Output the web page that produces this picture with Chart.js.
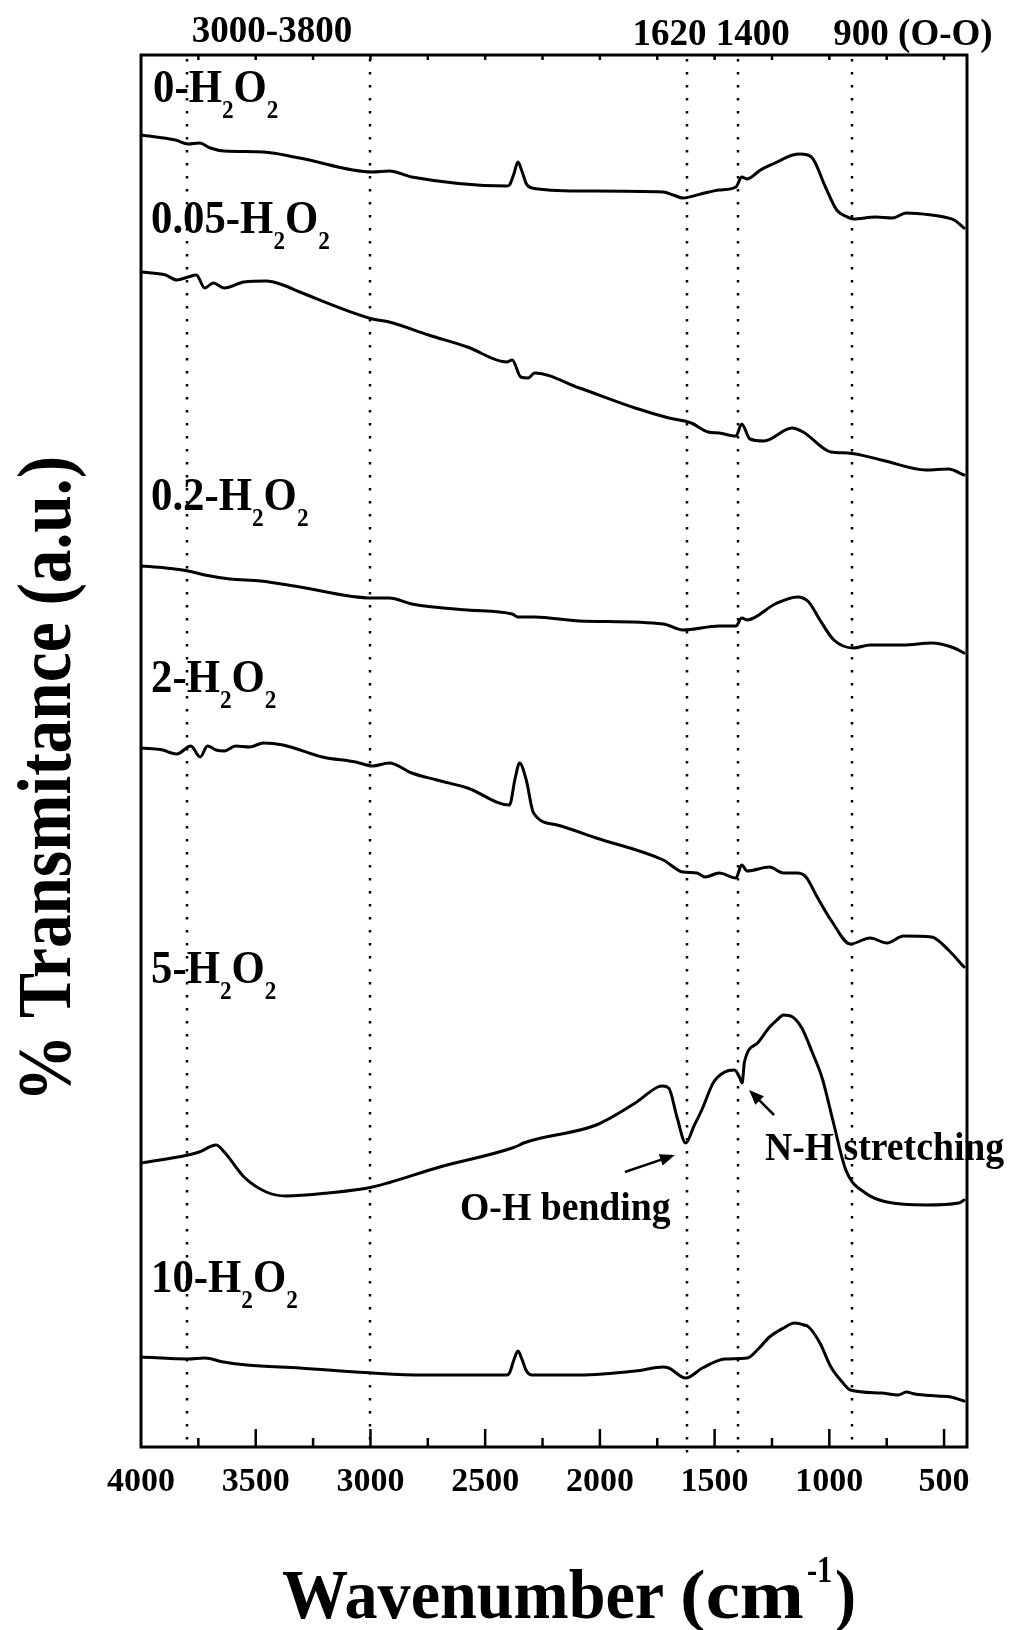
<!DOCTYPE html>
<html><head><meta charset="utf-8">
<script src="https://cdn.jsdelivr.net/npm/chart.js@4.4.0/dist/chart.umd.min.js"></script>
<style>html,body{margin:0;padding:0;background:#fff;}#wrap{width:1011px;height:1630px;}</style>
</head><body><div id="wrap"><canvas id="c" width="1011" height="1630"></canvas></div>
<script>
// ---- data (wavenumber cm-1 / transmittance a.u.) ----
const xTickLabels = [4000, 3500, 3000, 2500, 2000, 1500, 1000, 500];
const markerLines = [3800, 3000, 1620, 1400, 900];
const topLabels = ['3000-3800', '1620 1400', '900 (O-O)'];
const seriesPrefixes = ['0', '0.05', '0.2', '2', '5', '10'];

const wn0 = [4000,3850,3795,3745,3698,3637,3466,3308,2991,2918,2820,2406,2394,2375,2357,2340,2320,2296,2089,1724,1680,1638,1560,1480,1407,1382,1358,1300,1236,1160,1127,1078,1017,968,930,895,798,725,664,554,500,456,413];
const t0  = [130.9,130.4,130.0,130.1,129.6,129.3,129.2,128.6,127.2,127.3,126.7,125.8,125.9,127.0,128.2,127.3,126.0,125.6,125.3,125.2,124.9,124.6,125.0,125.4,125.7,126.7,126.5,127.4,128.1,128.9,129.0,128.7,125.7,123.4,122.8,122.5,122.7,122.6,123.1,122.9,122.7,122.4,121.6];

const wn1 = [4000,3893,3844,3795,3759,3722,3685,3637,3551,3454,3381,3308,2991,2918,2747,2577,2406,2382,2345,2313,2284,2089,1846,1699,1602,1529,1480,1407,1382,1346,1285,1163,1114,993,920,773,578,481,413];
const t1  = [117.2,116.9,116.4,116.7,116.9,115.6,116.1,115.6,116.2,116.3,115.9,115.2,112.5,112.2,110.9,109.7,108.2,108.4,106.7,106.6,107.1,105.6,103.6,102.6,102.1,101.2,101.1,100.8,102.0,100.5,100.3,101.6,101.2,99.2,99.1,98.4,97.4,97.5,96.9];

const wn2 = [4000,3893,3795,3722,3612,3478,3308,2991,2918,2820,2577,2382,2357,2284,2089,1724,1638,1480,1407,1382,1358,1236,1139,1090,1041,980,895,822,676,554,456,413];
const t2  = [87.8,87.6,87.3,86.9,86.5,86.3,85.7,84.6,84.6,84.0,83.4,83.0,82.7,82.7,82.3,82.0,81.4,81.8,81.8,82.6,82.4,84.0,84.7,84.2,82.4,80.4,79.6,79.9,79.9,80.1,79.6,79.1];

const wn3 = [4000,3905,3868,3844,3783,3742,3710,3673,3637,3588,3527,3466,3381,3210,3064,2991,2918,2820,2711,2577,2394,2370,2350,2321,2289,2187,2016,1724,1638,1577,1541,1480,1407,1382,1358,1261,1200,1139,1102,1053,993,908,822,749,676,554,481,413];
const t3  = [69.6,69.4,69.1,69.0,69.8,68.7,69.8,69.4,69.3,69.8,69.7,70.1,69.9,68.7,68.2,67.8,68.1,67.1,66.4,65.6,63.9,66.5,68.1,66.4,63.1,61.9,60.6,58.4,57.2,57.1,56.7,57.1,56.6,57.9,57.3,57.7,57.1,57.1,56.7,54.7,52.4,50.0,50.6,50.1,50.8,50.7,49.4,47.7];

const wn4 = [4000,3795,3746,3673,3637,3551,3454,3369,3186,2991,2698,2382,2350,2333,2016,1846,1748,1727,1700,1663,1626,1590,1556,1504,1456,1413,1390,1380,1370,1313,1260,1228,1200,1160,1120,1075,1030,985,928,843,749,578,436,413];
const t4  = [28.1,28.9,29.2,29.9,29.2,26.7,25.2,24.8,25.1,25.7,27.7,29.6,29.9,30.1,31.9,34.1,35.7,35.8,35.6,32.6,30.1,31.8,33.4,36.2,37.2,37.4,36.6,36.1,38.2,40.1,41.7,42.4,42.9,42.7,41.6,39.2,36.5,32.4,27.4,25.1,24.2,23.9,24.1,24.4];

const wn5 = [4000,3795,3722,3640,3539,3308,2991,2772,2406,2394,2375,2357,2340,2320,2296,2089,1846,1724,1700,1626,1553,1456,1358,1310,1261,1200,1151,1110,1090,1041,993,944,908,773,700,664,627,530,469,413];
const t5  = [8.7,8.5,8.6,8.2,7.9,7.6,7.1,6.9,6.9,7.1,8.4,9.3,8.5,7.3,6.9,6.9,7.3,7.7,7.6,6.6,7.6,8.5,8.6,9.5,10.7,11.6,12.1,11.9,11.7,10.1,7.7,6.2,5.4,5.1,4.9,5.2,5.0,4.8,4.7,4.3];

// annotation arrows in data space: [tailW, tailT, tipW, tipT]
const ohArrow = [1891, 27.2, 1673, 28.9];
const nhArrow = [1241, 32.9, 1350, 35.4];

// ---- chart ----
const FAM = '"Liberation Serif", "Times New Roman", serif';
const allW = [wn0, wn1, wn2, wn3, wn4, wn5];
const allT = [t0, t1, t2, t3, t4, t5];
const datasets = allW.map((w, i) => ({
  label: seriesPrefixes[i] + '-H2O2',
  data: w.map((v, k) => ({ x: v, y: allT[i][k] })),
  borderColor: '#000', borderWidth: 3, pointRadius: 0,
  borderJoinStyle: 'round', borderCapStyle: 'round',
  cubicInterpolationMode: 'monotone', fill: false
}));

function drawRuns(ctx, x, y, parts, sx, align) {
  ctx.save();
  ctx.textBaseline = 'alphabetic'; ctx.textAlign = 'left'; ctx.fillStyle = '#000';
  let total = 0;
  for (const p of parts) { ctx.font = 'bold ' + p.s + 'px ' + FAM; total += ctx.measureText(p.t).width; }
  ctx.translate(x, y); ctx.scale(sx, 1);
  let cx = align === 'center' ? -total / 2 : 0;
  for (const p of parts) {
    ctx.font = 'bold ' + p.s + 'px ' + FAM;
    ctx.fillText(p.t, cx, p.dy || 0);
    cx += ctx.measureText(p.t).width;
  }
  ctx.restore();
}

function arrow(ctx, xs, ys, spec) {
  const x1 = xs.getPixelForValue(spec[0]), y1 = ys.getPixelForValue(spec[1]);
  const x2 = xs.getPixelForValue(spec[2]), y2 = ys.getPixelForValue(spec[3]);
  const ang = Math.atan2(y2 - y1, x2 - x1), L = 15, H = 6;
  ctx.save();
  ctx.strokeStyle = '#000'; ctx.fillStyle = '#000'; ctx.lineWidth = 2.5;
  ctx.beginPath(); ctx.moveTo(x1, y1);
  ctx.lineTo(x2 - Math.cos(ang) * L * 0.8, y2 - Math.sin(ang) * L * 0.8); ctx.stroke();
  ctx.beginPath(); ctx.moveTo(x2, y2);
  ctx.lineTo(x2 - L * Math.cos(ang) + H * Math.sin(ang), y2 - L * Math.sin(ang) - H * Math.cos(ang));
  ctx.lineTo(x2 - L * Math.cos(ang) - H * Math.sin(ang), y2 - L * Math.sin(ang) + H * Math.cos(ang));
  ctx.closePath(); ctx.fill();
  ctx.restore();
}

const deco = {
  id: 'deco',
  beforeDatasetsDraw(chart) {
    const { ctx, chartArea: a, scales: { x } } = chart;
    ctx.save();
    ctx.strokeStyle = '#000'; ctx.lineWidth = 2.5; ctx.setLineDash([2.5, 10.5]);
    markerLines.forEach(w => {
      const px = Math.round(x.getPixelForValue(w));
      const ext = (w === 1620 || w === 1400) ? 8 : -2;
      ctx.beginPath(); ctx.moveTo(px, a.top + 4); ctx.lineTo(px, a.bottom + ext); ctx.stroke();
    });
    ctx.restore();
  },
  afterDatasetsDraw(chart) {
    const { ctx, chartArea: a, scales: { x, y } } = chart;
    ctx.save();
    // frame
    ctx.strokeStyle = '#000'; ctx.lineWidth = 3;
    ctx.strokeRect(a.left, a.top, a.right - a.left, a.bottom - a.top);
    // inward ticks every 250
    ctx.lineWidth = 2.5;
    for (let w = 3750; w >= 500; w -= 250) {
      const px = x.getPixelForValue(w);
      const len = (w % 500 === 0) ? 18 : 9;
      ctx.beginPath(); ctx.moveTo(px, a.bottom); ctx.lineTo(px, a.bottom - len); ctx.stroke();
      ctx.beginPath(); ctx.moveTo(px, a.top); ctx.lineTo(px, a.top + 5); ctx.stroke();
    }
    ctx.restore();

    // top labels
    drawRuns(ctx, 272, 42, [{ t: topLabels[0], s: 37 }], 1, 'center');
    drawRuns(ctx, 711, 45, [{ t: topLabels[1], s: 37 }], 1, 'center');
    drawRuns(ctx, 913, 45, [{ t: topLabels[2], s: 37 }], 1, 'center');

    // series labels
    const labelPos = [[153, 102], [151, 233], [151, 510], [151, 692], [151, 983], [151, 1292]];
    seriesPrefixes.forEach((p, i) => {
      const [lx, ly] = labelPos[i];
      drawRuns(ctx, lx, ly, [
        { t: p + '-H', s: 46 }, { t: '2', s: 25, dy: 16 },
        { t: 'O', s: 46 }, { t: '2', s: 25, dy: 16 }
      ], 0.93, 'left');
    });

    // annotations
    drawRuns(ctx, 460, 1220, [{ t: 'O-H bending', s: 41 }], 0.92, 'left');
    drawRuns(ctx, 765, 1160, [{ t: 'N-H stretching', s: 41 }], 0.92, 'left');
    arrow(ctx, x, y, ohArrow);
    arrow(ctx, x, y, nhArrow);

    // x axis title
    drawRuns(ctx, 282, 1618, [{ t: 'Wavenumber', s: 70 }], 0.945, 'left');
    drawRuns(ctx, 680, 1618, [{ t: '(cm', s: 70 }], 1.1, 'left');
    drawRuns(ctx, 807, 1582, [{ t: '-1', s: 38 }], 0.8, 'left');
    drawRuns(ctx, 835, 1618, [{ t: ')', s: 70 }], 0.9, 'left');

    // y axis title
    ctx.save();
    ctx.translate(70, 779); ctx.rotate(-Math.PI / 2);
    drawRuns(ctx, 0, 0, [{ t: '% Transmitance (a.u.)', s: 77 }], 0.875, 'center');
    ctx.restore();
  }
};

new Chart(document.getElementById('c').getContext('2d'), {
  type: 'line',
  data: { datasets },
  options: {
    responsive: false, animation: false, devicePixelRatio: 1,
    layout: { padding: { left: 141, right: 44, top: 55, bottom: 0 } },
    plugins: { legend: { display: false }, tooltip: { enabled: false }, title: { display: false } },
    scales: {
      x: {
        type: 'linear', reverse: true, min: 400, max: 4000,
        grid: { display: false, drawTicks: false }, border: { display: false },
        ticks: {
          color: '#000', padding: 15, autoSkip: false, maxRotation: 0,
          font: { family: FAM, size: 34, weight: 'bold' },
          callback: v => String(v)
        },
        afterBuildTicks: s => { s.ticks = xTickLabels.map(v => ({ value: v })); },
        afterFit: s => { s.height = 183; }
      },
      y: { display: false, min: -0.3, max: 138.9 }
    }
  },
  plugins: [deco]
});
</script></body></html>
